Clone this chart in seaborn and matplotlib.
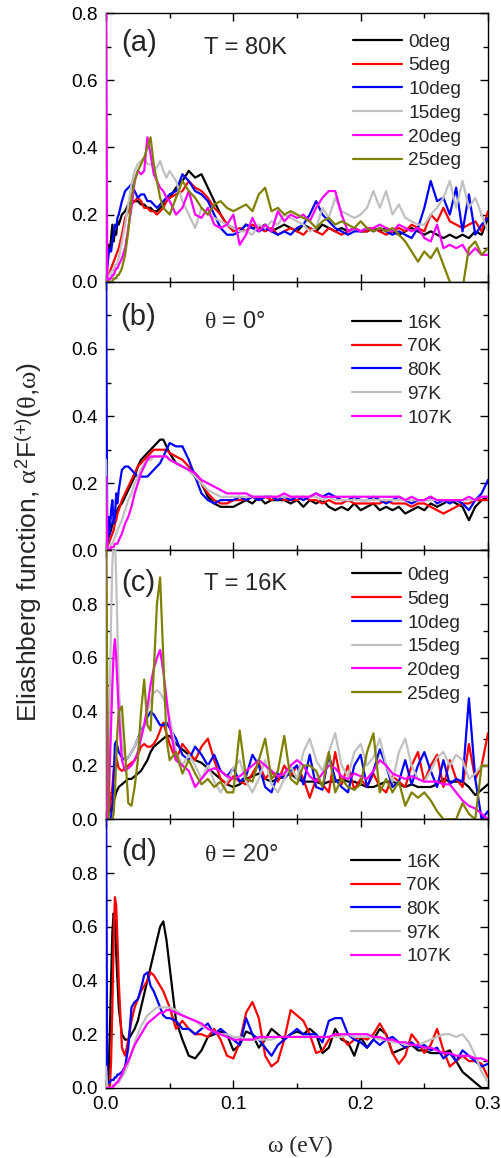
import matplotlib
matplotlib.use("Agg")
import matplotlib.pyplot as plt
import seaborn as sns
import pandas as pd
from matplotlib.ticker import MultipleLocator, FormatStrFormatter

# energy grid (eV), finer at low energy where the peaks are
omega = [0.000, 0.001, 0.002, 0.003, 0.004, 0.005, 0.006, 0.007, 0.008, 0.009, 0.010,
         0.0125, 0.015, 0.0175, 0.020, 0.0225, 0.025, 0.0275, 0.030, 0.0325, 0.035, 0.0375, 0.040, 0.0425, 0.045, 0.0475, 0.050,
         0.055, 0.060, 0.065, 0.070, 0.075, 0.080, 0.085, 0.090, 0.095, 0.100,
         0.105, 0.110, 0.115, 0.120, 0.125, 0.130, 0.135, 0.140, 0.145, 0.150,
         0.155, 0.160, 0.165, 0.170, 0.175, 0.180, 0.185, 0.190, 0.195, 0.200,
         0.205, 0.210, 0.215, 0.220, 0.225, 0.230, 0.235, 0.240, 0.245, 0.250,
         0.255, 0.260, 0.265, 0.270, 0.275, 0.280, 0.285, 0.290, 0.295, 0.300]

angle_labels = ["0deg", "5deg", "10deg", "15deg", "20deg", "25deg"]
temp_labels = ["16K", "70K", "80K", "97K", "107K"]
angle_colors = ["#000000", "#ff0000", "#0000ff", "#c0c0c0", "#ff00ff", "#808000"]
temp_colors = ["#000000", "#ff0000", "#0000ff", "#c0c0c0", "#ff00ff"]

# (a) T = 80K, different angles
a_0deg = [0.0, 0.08, 0.11, 0.09, 0.13, 0.17, 0.12, 0.15, 0.14, 0.18, 0.17,
          0.20, 0.21, 0.23, 0.24, 0.24, 0.24, 0.23, 0.23, 0.22, 0.22, 0.21, 0.21, 0.22, 0.23, 0.24, 0.25,
          0.28, 0.30, 0.33, 0.31, 0.32, 0.28, 0.24, 0.20, 0.17, 0.16,
          0.15, 0.17, 0.16, 0.16, 0.17, 0.15, 0.16, 0.17, 0.16, 0.15, 0.17, 0.16, 0.15, 0.17, 0.16, 0.15, 0.16, 0.15, 0.16, 0.15,
          0.15, 0.16, 0.15, 0.16, 0.15, 0.14, 0.15, 0.16, 0.15, 0.14, 0.15, 0.14, 0.13, 0.14, 0.13, 0.14, 0.13, 0.15, 0.14, 0.19]
a_5deg = [0.0, 0.01, 0.02, 0.03, 0.04, 0.05, 0.06, 0.07, 0.08, 0.09, 0.10,
          0.14, 0.19, 0.21, 0.23, 0.24, 0.25, 0.24, 0.22, 0.22, 0.21, 0.21, 0.20, 0.21, 0.22, 0.24, 0.25,
          0.26, 0.27, 0.30, 0.28, 0.27, 0.25, 0.22, 0.20, 0.17, 0.15,
          0.16, 0.15, 0.17, 0.16, 0.15, 0.16, 0.14, 0.15, 0.16, 0.15, 0.14, 0.16, 0.15, 0.14, 0.16, 0.15, 0.14, 0.15, 0.16, 0.15,
          0.15, 0.16, 0.15, 0.14, 0.15, 0.16, 0.15, 0.17, 0.16, 0.15, 0.20, 0.18, 0.22, 0.18, 0.17, 0.16, 0.17, 0.18, 0.15, 0.21]
a_10deg = [0.0, 0.04, 0.08, 0.10, 0.09, 0.12, 0.14, 0.17, 0.16, 0.19, 0.20,
           0.24, 0.27, 0.28, 0.29, 0.27, 0.25, 0.26, 0.26, 0.24, 0.24, 0.23, 0.22, 0.23, 0.24, 0.25, 0.26,
           0.27, 0.32, 0.30, 0.27, 0.26, 0.24, 0.20, 0.16, 0.14, 0.14,
           0.15, 0.17, 0.16, 0.15, 0.16, 0.15, 0.14, 0.15, 0.14, 0.16, 0.17, 0.20, 0.24, 0.20, 0.18, 0.16, 0.15, 0.14, 0.15, 0.15,
           0.16, 0.15, 0.16, 0.15, 0.14, 0.15, 0.14, 0.13, 0.16, 0.22, 0.30, 0.24, 0.25, 0.20, 0.28, 0.15, 0.26, 0.14, 0.17, 0.19]
a_15deg = [0.0, 0.01, 0.02, 0.02, 0.03, 0.03, 0.04, 0.05, 0.05, 0.06, 0.07,
           0.12, 0.17, 0.23, 0.29, 0.33, 0.35, 0.36, 0.37, 0.35, 0.35, 0.34, 0.34, 0.36, 0.33, 0.31, 0.33,
           0.30, 0.24, 0.20, 0.16, 0.22, 0.20, 0.19, 0.18, 0.17, 0.16,
           0.15, 0.15, 0.14, 0.17, 0.16, 0.18, 0.17, 0.20, 0.19, 0.18, 0.17, 0.15, 0.16, 0.22, 0.19, 0.25, 0.21, 0.20, 0.19, 0.20,
           0.22, 0.27, 0.22, 0.27, 0.20, 0.23, 0.19, 0.18, 0.17, 0.17, 0.20, 0.22, 0.25, 0.30, 0.22, 0.30, 0.22, 0.25, 0.20, 0.15]
a_20deg = [0.85, 0.0, 0.0, 0.01, 0.01, 0.02, 0.02, 0.03, 0.04, 0.04, 0.05,
           0.07, 0.10, 0.16, 0.22, 0.30, 0.33, 0.32, 0.33, 0.43, 0.38, 0.32, 0.30, 0.28, 0.27, 0.25, 0.24,
           0.20, 0.22, 0.27, 0.20, 0.19, 0.22, 0.17, 0.16, 0.17, 0.20,
           0.11, 0.14, 0.19, 0.15, 0.17, 0.15, 0.21, 0.18, 0.20, 0.19, 0.20, 0.18, 0.22, 0.25, 0.27, 0.27, 0.20, 0.15, 0.16, 0.15,
           0.16, 0.16, 0.17, 0.16, 0.15, 0.17, 0.16, 0.15, 0.16, 0.13, 0.12, 0.17, 0.10, 0.11, 0.10, 0.11, 0.08, 0.10, 0.08, 0.08]
a_25deg = [0.0, 0.0, 0.0, 0.0, 0.0, 0.0, 0.01, 0.01, 0.01, 0.02, 0.02,
           0.04, 0.08, 0.15, 0.25, 0.30, 0.33, 0.35, 0.37, 0.40, 0.43, 0.35, 0.30, 0.25, 0.22, 0.21, 0.20,
           0.25, 0.30, 0.27, 0.25, 0.22, 0.20, 0.23, 0.24, 0.22, 0.21,
           0.22, 0.23, 0.21, 0.26, 0.28, 0.21, 0.22, 0.20, 0.21, 0.20, 0.19, 0.18, 0.16, 0.18, 0.19, 0.17, 0.18, 0.17, 0.16, 0.18,
           0.16, 0.15, 0.16, 0.15, 0.16, 0.14, 0.12, 0.09, 0.06, 0.09, 0.07, 0.10, 0.05, 0.0, -0.02, -0.02, 0.10, 0.12, 0.08, 0.10]

# (b) theta = 0, different temperatures
b_16K = [0.0, 0.02, 0.04, 0.05, 0.06, 0.08, 0.09, 0.10, 0.11, 0.12, 0.13,
         0.14, 0.16, 0.18, 0.20, 0.22, 0.25, 0.27, 0.28, 0.29, 0.30, 0.31, 0.32, 0.33, 0.33, 0.31, 0.29,
         0.26, 0.25, 0.24, 0.22, 0.20, 0.16, 0.14, 0.13, 0.13, 0.13,
         0.14, 0.15, 0.14, 0.16, 0.14, 0.15, 0.15, 0.15, 0.14, 0.15, 0.13, 0.15, 0.14, 0.15, 0.13, 0.12, 0.13, 0.12, 0.14, 0.12,
         0.13, 0.14, 0.12, 0.13, 0.12, 0.13, 0.11, 0.12, 0.13, 0.12, 0.14, 0.13, 0.14, 0.15, 0.14, 0.13, 0.09, 0.13, 0.15, 0.16]
b_70K = [0.0, 0.01, 0.02, 0.03, 0.04, 0.05, 0.06, 0.08, 0.09, 0.11, 0.12,
         0.15, 0.17, 0.19, 0.21, 0.23, 0.25, 0.26, 0.27, 0.28, 0.29, 0.30, 0.30, 0.30, 0.30, 0.30, 0.29,
         0.28, 0.27, 0.25, 0.23, 0.20, 0.17, 0.15, 0.14, 0.14, 0.15,
         0.15, 0.15, 0.16, 0.15, 0.16, 0.15, 0.16, 0.15, 0.15, 0.15, 0.16, 0.15, 0.15, 0.14, 0.15, 0.14, 0.14, 0.15, 0.14, 0.14,
         0.14, 0.14, 0.14, 0.15, 0.14, 0.14, 0.14, 0.13, 0.14, 0.14, 0.13, 0.12, 0.11, 0.12, 0.13, 0.14, 0.14, 0.15, 0.15, 0.15]
b_80K = [0.85, 0.02, 0.10, 0.05, 0.12, 0.15, 0.08, 0.10, 0.17, 0.14, 0.18,
         0.24, 0.25, 0.25, 0.24, 0.23, 0.22, 0.22, 0.22, 0.22, 0.23, 0.24, 0.25, 0.26, 0.28, 0.30, 0.32,
         0.31, 0.31, 0.27, 0.22, 0.17, 0.15, 0.14, 0.15, 0.15, 0.15,
         0.16, 0.15, 0.16, 0.15, 0.16, 0.16, 0.15, 0.16, 0.15, 0.16, 0.15, 0.16, 0.17, 0.16, 0.17, 0.16, 0.15, 0.15, 0.16, 0.15,
         0.15, 0.16, 0.15, 0.14, 0.15, 0.16, 0.15, 0.14, 0.15, 0.15, 0.16, 0.14, 0.15, 0.14, 0.15, 0.14, 0.12, 0.15, 0.17, 0.21]
b_97K = [0.27, 0.0, 0.01, 0.01, 0.02, 0.02, 0.03, 0.04, 0.05, 0.06, 0.07,
         0.09, 0.12, 0.15, 0.17, 0.20, 0.22, 0.24, 0.26, 0.27, 0.27, 0.28, 0.28, 0.28, 0.28, 0.28, 0.27,
         0.26, 0.25, 0.24, 0.22, 0.20, 0.18, 0.17, 0.16, 0.16, 0.16,
         0.16, 0.16, 0.16, 0.16, 0.16, 0.16, 0.16, 0.16, 0.16, 0.16, 0.16, 0.16, 0.16, 0.15, 0.16, 0.15, 0.15, 0.15, 0.15, 0.15,
         0.15, 0.15, 0.15, 0.15, 0.15, 0.15, 0.15, 0.15, 0.15, 0.15, 0.15, 0.15, 0.15, 0.15, 0.15, 0.15, 0.15, 0.15, 0.16, 0.16]
b_107K = [0.22, 0.01, 0.0, 0.0, 0.01, 0.01, 0.01, 0.02, 0.02, 0.02, 0.03,
          0.05, 0.08, 0.10, 0.13, 0.17, 0.20, 0.23, 0.25, 0.27, 0.28, 0.28, 0.28, 0.28, 0.28, 0.28, 0.27,
          0.26, 0.25, 0.24, 0.23, 0.21, 0.20, 0.19, 0.18, 0.17, 0.17,
          0.17, 0.17, 0.16, 0.16, 0.16, 0.16, 0.16, 0.17, 0.16, 0.16, 0.16, 0.16, 0.17, 0.16, 0.16, 0.16, 0.16, 0.16, 0.16, 0.16,
          0.16, 0.16, 0.16, 0.16, 0.16, 0.16, 0.15, 0.16, 0.15, 0.15, 0.16, 0.15, 0.15, 0.15, 0.15, 0.15, 0.16, 0.15, 0.16, 0.16]

# (c) T = 16K, different angles
c_0deg = [0.0, 0.01, 0.02, 0.03, 0.04, 0.05, 0.07, 0.08, 0.10, 0.11, 0.12,
          0.13, 0.14, 0.15, 0.15, 0.16, 0.17, 0.18, 0.20, 0.22, 0.25, 0.27, 0.28, 0.29, 0.30, 0.31, 0.31,
          0.28, 0.26, 0.24, 0.22, 0.21, 0.19, 0.17, 0.15, 0.13, 0.12,
          0.13, 0.15, 0.16, 0.17, 0.15, 0.14, 0.15, 0.16, 0.17, 0.15, 0.14, 0.14, 0.14, 0.13, 0.14, 0.14, 0.15, 0.14, 0.14, 0.13,
          0.12, 0.12, 0.13, 0.14, 0.14, 0.13, 0.12, 0.13, 0.12, 0.12, 0.12, 0.13, 0.15, 0.14, 0.14, 0.14, 0.12, 0.09, 0.11, 0.13]
c_5deg = [0.0, 0.0, 0.02, 0.05, 0.08, 0.12, 0.18, 0.22, 0.23, 0.21, 0.19,
          0.18, 0.19, 0.20, 0.21, 0.22, 0.24, 0.27, 0.28, 0.27, 0.27, 0.28, 0.30, 0.33, 0.36, 0.32, 0.28,
          0.22, 0.28, 0.25, 0.22, 0.27, 0.30, 0.22, 0.15, 0.13, 0.16,
          0.14, 0.13, 0.17, 0.21, 0.15, 0.18, 0.14, 0.20, 0.16, 0.20, 0.15, 0.08, 0.15, 0.13, 0.10, 0.25, 0.13, 0.20, 0.11, 0.15,
          0.12, 0.17, 0.12, 0.10, 0.16, 0.14, 0.12, 0.20, 0.25, 0.14, 0.20, 0.24, 0.12, 0.22, 0.15, 0.12, 0.28, 0.15, 0.20, 0.32]
c_10deg = [-0.10, 0.0, 0.0, 0.0, 0.01, 0.05, 0.15, 0.28, 0.29, 0.27, 0.25,
           0.23, 0.22, 0.23, 0.25, 0.27, 0.30, 0.33, 0.35, 0.38, 0.40, 0.39, 0.37, 0.35, 0.35, 0.36, 0.34,
           0.30, 0.24, 0.22, 0.27, 0.24, 0.20, 0.24, 0.18, 0.16, 0.19,
           0.14, 0.16, 0.24, 0.20, 0.12, 0.10, 0.17, 0.15, 0.18, 0.20, 0.13, 0.24, 0.12, 0.11, 0.24, 0.15, 0.12, 0.10, 0.20, 0.24,
           0.12, 0.18, 0.26, 0.20, 0.12, 0.14, 0.22, 0.13, 0.20, 0.25, 0.18, 0.12, 0.22, 0.13, 0.15, 0.14, 0.45, 0.15, 0.0, 0.03]
c_15deg = [0.0, 0.05, 0.20, 0.45, 0.75, 0.95, 1.05, 1.05, 0.90, 0.70, 0.50,
           0.28, 0.22, 0.23, 0.25, 0.27, 0.30, 0.32, 0.35, 0.40, 0.45, 0.47, 0.48, 0.47, 0.45, 0.42, 0.38,
           0.25, 0.20, 0.24, 0.20, 0.15, 0.20, 0.14, 0.10, 0.14, 0.19,
           0.22, 0.14, 0.10, 0.15, 0.22, 0.13, 0.10, 0.15, 0.20, 0.15, 0.25, 0.30, 0.22, 0.18, 0.25, 0.32, 0.20, 0.16, 0.25, 0.28,
           0.20, 0.23, 0.30, 0.20, 0.14, 0.25, 0.30, 0.20, 0.15, 0.14, 0.18, 0.23, 0.25, 0.20, 0.24, 0.22, 0.15, 0.17, 0.20, 0.20]
c_20deg = [1.05, 0.0, 0.05, 0.20, 0.35, 0.50, 0.62, 0.67, 0.60, 0.50, 0.40,
           0.22, 0.18, 0.19, 0.20, 0.22, 0.25, 0.30, 0.35, 0.42, 0.50, 0.56, 0.60, 0.63, 0.55, 0.45, 0.35,
           0.22, 0.20, 0.18, 0.12, 0.15, 0.18, 0.19, 0.18, 0.16, 0.15,
           0.16, 0.18, 0.20, 0.22, 0.20, 0.18, 0.16, 0.17, 0.20, 0.22, 0.20, 0.16, 0.14, 0.17, 0.20, 0.19, 0.16, 0.15, 0.17, 0.16,
           0.15, 0.18, 0.22, 0.20, 0.17, 0.16, 0.15, 0.16, 0.15, 0.14, 0.14, 0.14, 0.13, 0.13, 0.10, 0.07, 0.05, 0.04, 0.02, 0.0]
c_25deg = [1.05, 0.50, 0.0, 0.0, 0.0, 0.0, 0.02, 0.10, 0.22, 0.33, 0.40,
           0.42, 0.25, 0.06, 0.05, 0.12, 0.22, 0.40, 0.52, 0.35, 0.33, 0.55, 0.80, 0.90, 0.60, 0.30, 0.22,
           0.25, 0.17, 0.22, 0.17, 0.13, 0.15, 0.12, 0.14, 0.10, 0.10,
           0.33, 0.15, 0.14, 0.22, 0.30, 0.15, 0.18, 0.31, 0.15, 0.13, 0.20, 0.20, 0.18, 0.12, 0.25, 0.10, 0.15, 0.12, 0.11, 0.13,
           0.25, 0.32, 0.10, 0.15, 0.10, 0.14, 0.05, 0.10, 0.08, 0.10, 0.07, 0.03, 0.0, 0.0, 0.0, 0.06, 0.02, 0.0, 0.20, 0.20]

# (d) theta = 20, different temperatures
d_16K = [0.05, 0.0, 0.05, 0.20, 0.40, 0.58, 0.65, 0.62, 0.50, 0.40, 0.30,
         0.20, 0.18, 0.18, 0.20, 0.22, 0.25, 0.30, 0.35, 0.40, 0.45, 0.50, 0.55, 0.60, 0.62, 0.55, 0.45,
         0.25, 0.18, 0.12, 0.11, 0.14, 0.19, 0.20, 0.21, 0.20, 0.14,
         0.16, 0.21, 0.20, 0.15, 0.18, 0.22, 0.20, 0.18, 0.20, 0.21, 0.20, 0.22, 0.20, 0.13, 0.15, 0.22, 0.18, 0.17, 0.12, 0.19,
         0.15, 0.18, 0.22, 0.20, 0.13, 0.14, 0.15, 0.16, 0.14, 0.14, 0.13, 0.13, 0.13, 0.14, 0.10, 0.06, 0.04, 0.02, 0.0, 0.0]
d_70K = [0.0, 0.0, 0.0, 0.0, 0.10, 0.30, 0.55, 0.71, 0.68, 0.55, 0.40,
         0.15, 0.12, 0.18, 0.25, 0.30, 0.33, 0.36, 0.38, 0.40, 0.43, 0.42, 0.40, 0.38, 0.36, 0.33, 0.30,
         0.22, 0.25, 0.22, 0.20, 0.20, 0.19, 0.22, 0.18, 0.12, 0.11,
         0.17, 0.28, 0.32, 0.26, 0.12, 0.08, 0.10, 0.18, 0.29, 0.27, 0.25, 0.20, 0.13, 0.14, 0.18, 0.20, 0.19, 0.16, 0.18, 0.19,
         0.18, 0.20, 0.24, 0.20, 0.13, 0.09, 0.12, 0.20, 0.17, 0.13, 0.16, 0.22, 0.14, 0.08, 0.10, 0.12, 0.10, 0.10, 0.09, 0.04]
d_80K = [1.05, 0.02, 0.02, 0.02, 0.03, 0.03, 0.03, 0.04, 0.04, 0.05, 0.05,
         0.06, 0.08, 0.15, 0.30, 0.32, 0.33, 0.37, 0.42, 0.43, 0.38, 0.36, 0.33, 0.30, 0.27, 0.26, 0.26,
         0.25, 0.22, 0.22, 0.20, 0.22, 0.24, 0.20, 0.22, 0.20, 0.18,
         0.16, 0.26, 0.20, 0.18, 0.15, 0.12, 0.16, 0.18, 0.20, 0.22, 0.20, 0.20, 0.20, 0.17, 0.25, 0.26, 0.26, 0.20, 0.18, 0.17,
         0.15, 0.18, 0.16, 0.18, 0.19, 0.17, 0.15, 0.17, 0.15, 0.16, 0.14, 0.15, 0.11, 0.13, 0.10, 0.14, 0.12, 0.10, 0.08, 0.09]
d_97K = [0.08, 0.0, 0.0, 0.0, 0.0, 0.01, 0.01, 0.01, 0.02, 0.02, 0.02,
         0.04, 0.06, 0.09, 0.13, 0.17, 0.20, 0.23, 0.25, 0.27, 0.28, 0.29, 0.30, 0.30, 0.30, 0.30, 0.30,
         0.29, 0.27, 0.26, 0.25, 0.23, 0.22, 0.21, 0.20, 0.20, 0.19,
         0.19, 0.18, 0.18, 0.18, 0.18, 0.18, 0.19, 0.19, 0.19, 0.19, 0.19, 0.19, 0.19, 0.19, 0.19, 0.19, 0.19, 0.20, 0.19, 0.19,
         0.19, 0.19, 0.18, 0.18, 0.17, 0.17, 0.16, 0.16, 0.16, 0.17, 0.18, 0.19, 0.20, 0.20, 0.19, 0.20, 0.17, 0.12, 0.06, 0.02]
d_107K = [0.0, 0.0, 0.0, 0.0, 0.0, 0.0, 0.01, 0.01, 0.02, 0.02, 0.03,
          0.05, 0.08, 0.10, 0.13, 0.16, 0.18, 0.20, 0.22, 0.24, 0.25, 0.26, 0.27, 0.28, 0.28, 0.29, 0.29,
          0.28, 0.27, 0.26, 0.25, 0.24, 0.22, 0.21, 0.20, 0.19, 0.18,
          0.18, 0.18, 0.18, 0.19, 0.19, 0.19, 0.19, 0.19, 0.19, 0.19, 0.19, 0.19, 0.19, 0.19, 0.19, 0.20, 0.20, 0.20, 0.20, 0.20,
          0.20, 0.19, 0.19, 0.18, 0.18, 0.17, 0.17, 0.16, 0.16, 0.15, 0.15, 0.14, 0.13, 0.13, 0.12, 0.12, 0.12, 0.11, 0.11, 0.10]

panels = [
    ("(a)", "T = 80K", angle_labels, angle_colors, [a_0deg, a_5deg, a_10deg, a_15deg, a_20deg, a_25deg], 0.8),
    ("(b)", r"$\theta$ = 0°", temp_labels, temp_colors, [b_16K, b_70K, b_80K, b_97K, b_107K], 0.8),
    ("(c)", "T = 16K", angle_labels, angle_colors, [c_0deg, c_5deg, c_10deg, c_15deg, c_20deg, c_25deg], 1.0),
    ("(d)", r"$\theta$ = 20°", temp_labels, temp_colors, [d_16K, d_70K, d_80K, d_97K, d_107K], 1.0),
]

sns.set_style("ticks")
plt.rcParams["font.family"] = ["Liberation Sans", "DejaVu Sans"]
plt.rcParams["mathtext.fontset"] = "custom"
plt.rcParams["mathtext.rm"] = "Liberation Sans"
plt.rcParams["mathtext.it"] = "Liberation Serif"  # upright serif greek, like the Symbol font
plt.rcParams["mathtext.bf"] = "Liberation Sans:bold"

fig, axes = plt.subplots(4, 1, figsize=(5.02, 11.58), dpi=100, sharex=True,
                         gridspec_kw=dict(hspace=0))
fig.subplots_adjust(left=106 / 502, right=488 / 502, top=1 - 13 / 1158, bottom=1 - 1088 / 1158)

# legend anchor (upper-left) and label positions in axes fraction
leg_pos = [(0.647, 0.925), (0.644, 0.879), (0.644, 0.940), (0.641, 0.874)]
tag_pos = [(0.041, 0.888), (0.037, 0.870), (0.041, 0.879), (0.041, 0.879)]
title_pos = [(0.257, 0.870), (0.257, 0.851), (0.257, 0.874), (0.257, 0.867)]

for i, (ax, (tag, title, labels, colors, curves, ymax)) in enumerate(zip(axes, panels)):
    frames = []
    for lab, vals in zip(labels, curves):
        frames.append(pd.DataFrame({"omega": omega, "value": vals, "label": lab}))
    df = pd.concat(frames, ignore_index=True)
    sns.lineplot(data=df, x="omega", y="value", hue="label", hue_order=labels,
                 palette=colors, estimator=None, linewidth=1.6, zorder=3, ax=ax)

    ax.set_xlim(0, 0.3)
    ax.set_ylim(0, ymax)
    ax.set_xlabel("")
    ax.set_ylabel("")
    ax.xaxis.set_major_locator(MultipleLocator(0.1))
    ax.xaxis.set_minor_locator(MultipleLocator(0.05))
    ax.xaxis.set_major_formatter(FormatStrFormatter("%.1f"))
    ticks = [0.0, 0.2, 0.4, 0.6, 0.8] + ([1.0] if ymax > 0.9 else [])
    ticklabels = ["%.1f" % t for t in ticks]
    if i == 1 or ymax > 0.9:
        ticklabels[-1] = ""  # top label hidden where panels meet
    ax.set_yticks(ticks)
    ax.set_yticklabels(ticklabels)
    ax.yaxis.set_minor_locator(MultipleLocator(0.1))
    ax.tick_params(which="both", direction="in", top=True, right=True, width=1.0,
                   labelsize=13.8, pad=6, colors="black")
    ax.tick_params(which="major", length=6)
    ax.tick_params(which="minor", length=3.5)
    for sp in ax.spines.values():
        sp.set_linewidth(1.0)
        sp.set_color("black")

    handles, labs = ax.get_legend_handles_labels()
    leg = ax.legend(handles, labs, loc="upper left", bbox_to_anchor=leg_pos[i],
                    frameon=False, fontsize=13.8, handlelength=2.56, handletextpad=0.32,
                    labelspacing=0.33, borderpad=0, borderaxespad=0)
    for h in leg.get_lines():
        h.set_linewidth(1.6)

    ax.text(tag_pos[i][0], tag_pos[i][1], tag, transform=ax.transAxes,
            ha="left", va="center", fontsize=21)
    ax.text(title_pos[i][0], title_pos[i][1], title, transform=ax.transAxes,
            ha="left", va="center", fontsize=17)

fig.text(0.058, 0.532, r"Eliashberg function, $\alpha^{2}$F$^{(+)}$($\theta$,$\omega$)",
         rotation=90, ha="center", va="center", fontsize=19)
fig.text(0.599, 0.0104, "ω (eV)", family=["Liberation Serif", "DejaVu Serif"],
         ha="center", va="center", fontsize=17)

fig.savefig("out.png", dpi=100)
